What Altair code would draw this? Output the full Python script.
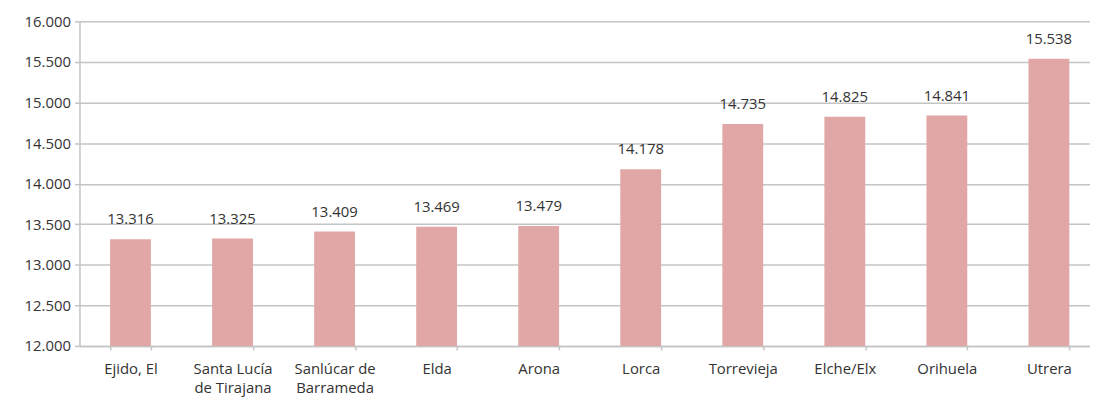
import altair as alt
import pandas as pd

categories = ["Ejido, El", "Santa Lucía|de Tirajana", "Sanlúcar de|Barrameda", "Elda", "Arona",
              "Lorca", "Torrevieja", "Elche/Elx", "Orihuela", "Utrera"]
values = [13316, 13325, 13409, 13469, 13479, 14178, 14735, 14825, 14841, 15538]
y_ticks = [12000, 12500, 13000, 13500, 14000, 14500, 15000, 15500, 16000]

df = pd.DataFrame({"cat": categories, "val": values})

FONT = "Open Sans"
TXT = "#333333"
GRID = "#c4c4c4"
FS = 15

x_enc = alt.X("cat:N", sort=categories, title=None,
              scale=alt.Scale(paddingInner=0.6, paddingOuter=0.3, range=[0, 1028]),
              axis=alt.Axis(labelAngle=0, labelExpr="split(datum.label, '|')",
                            labelFont=FONT, labelFontSize=FS, labelColor=TXT,
                            labelPadding=12, labelLineHeight=19,
                            tickBand="extent", tickColor=GRID, tickSize=4, tickWidth=1.5,
                            domainColor=GRID, domainWidth=1.5, grid=False))

y_scale = alt.Scale(domain=[12000, 16000], nice=False, zero=False)

bars = alt.Chart(df).mark_bar(color="#e0a7a6").encode(
    x=x_enc,
    y=alt.Y("val:Q", scale=y_scale, title=None,
            axis=alt.Axis(values=y_ticks,
                          labelExpr="replace(format(datum.value, ',.0f'), ',', '.')",
                          labelFont=FONT, labelFontSize=FS, labelColor=TXT, labelPadding=4,
                          tickColor=GRID, tickSize=5, tickWidth=1.5,
                          domainColor=GRID, domainWidth=1.5,
                          grid=True, gridColor=GRID, gridWidth=1.5)),
    y2=alt.datum(12000),
)

labels = alt.Chart(df).transform_calculate(
    lab="replace(format(datum.val, ',.0f'), ',', '.')"
).mark_text(font=FONT, fontSize=FS, color=TXT, baseline="alphabetic", dy=-15).encode(
    x=alt.X("cat:N", sort=categories),
    y=alt.Y("val:Q", scale=y_scale),
    text="lab:N",
)

chart = (bars + labels).properties(
    width=1018, height=327,
    background="white",
    autosize=alt.AutoSizeParams(type="none"),
    padding={"left": 72, "top": 12, "right": 0, "bottom": 52},
).configure_view(stroke=None)

chart.save("out.html", embed_options={"renderer": "svg", "actions": False})
